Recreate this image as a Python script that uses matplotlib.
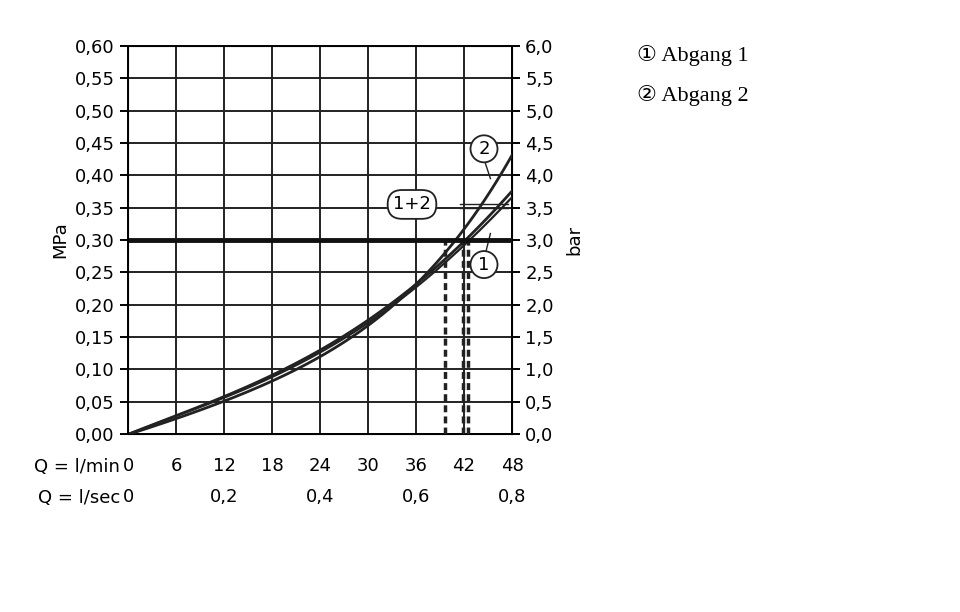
import matplotlib
matplotlib.use("Agg")
import matplotlib.pyplot as plt
from matplotlib.patches import FancyBboxPatch
import numpy as np

flow = [0, 6, 12, 18, 24, 30, 36, 42, 48]
curve_2 = [0, 0.022, 0.050, 0.085, 0.120, 0.165, 0.230, 0.320, 0.430]
curve_12 = [0, 0.027, 0.058, 0.092, 0.130, 0.175, 0.230, 0.300, 0.375]
curve_1 = [0, 0.026, 0.056, 0.090, 0.127, 0.170, 0.225, 0.295, 0.365]
cross_q = [39.6, 41.9, 42.5]
limit = 0.30
yticks = [round(0.05 * i, 2) for i in range(13)]
lmin_labels = ["0", "6", "12", "18", "24", "30", "36", "42", "48"]
lsec_pos = [0, 12, 24, 36, 48]
lsec_labels = ["0", "0,2", "0,4", "0,6", "0,8"]

plt.rcParams['font.family'] = ['DejaVu Sans']
fig = plt.figure(figsize=(9.6, 6.12), dpi=100)
ax = fig.add_axes([128/960, 1-434/612, 384/960, 388/612])
fs = 13
xs = np.linspace(0, 48, 200)
for c, lw in [(curve_2, 2.0), (curve_12, 2.0), (curve_1, 1.6)]:
    ax.plot(xs, np.interp(xs, flow, c) if False else np.polyval(np.polyfit(flow, c, 4), xs), color='#222', lw=lw, zorder=3)
ax.axhline(limit, color='#111', lw=3.5, zorder=4)
for q in cross_q:
    ax.plot([q, q], [0, limit], color='#222', lw=2.5, ls=(0, (2, 1.2)), zorder=3)
ax.set_xlim(0, 48); ax.set_ylim(0, 0.6)
ax.set_xticks(flow); ax.set_yticks(yticks)
ax.grid(True, color='#222', lw=1.4)
ax.set_xticklabels([])
ax.set_yticklabels([f"{v:.2f}".replace('.', ',') for v in yticks], fontsize=fs)
ax.tick_params(axis='y', direction='out', length=6, width=1.4)
ax.tick_params(axis='x', length=0)
for s in ax.spines.values():
    s.set_linewidth(1.4)
ax.set_ylabel("MPa", fontsize=fs)
ax2 = ax.twinx()
ax2.set_ylim(0, 6)
ax2.set_yticks([0.5 * i for i in range(13)])
ax2.set_yticklabels([f"{0.5*i:.1f}".replace('.', ',') for i in range(13)], fontsize=fs)
ax2.tick_params(axis='y', direction='out', length=6, width=1.4)
ax2.set_ylabel("bar", fontsize=fs)
ax2.yaxis.set_label_coords(1.14, 0.5)

for x, l in zip(flow, lmin_labels):
    ax.text(x, -0.05, l, ha='center', va='center', fontsize=fs)
for x, l in zip(lsec_pos, lsec_labels):
    ax.text(x, -0.097, l, ha='center', va='center', fontsize=fs)
fig.text(120/960, 1-467/612, "Q = l/min", ha='right', va='center', fontsize=fs)
fig.text(120/960, 1-498/612, "Q = l/sec", ha='right', va='center', fontsize=fs)

# annotations
ax.plot([44.5, 45.3], [0.425, 0.395], color='#222', lw=1)
ax.text(44.5, 0.441, "2", ha='center', va='center', fontsize=fs, zorder=6,
        bbox=dict(boxstyle='circle,pad=0.25', fc='white', ec='#222', lw=1.3))
ax.plot([41.5, 47.5], [0.355, 0.355], color='#222', lw=1)
ax.plot([41.5, 47.5], [0.35, 0.35], color='#222', lw=1)
ax.text(35.5, 0.355, "1+2", ha='center', va='center', fontsize=fs, zorder=6,
        bbox=dict(boxstyle='round,pad=0.3,rounding_size=0.8', fc='white', ec='#222', lw=1.3))
ax.plot([44.3, 45.3], [0.26, 0.31], color='#222', lw=1)
ax.text(44.5, 0.262, "1", ha='center', va='center', fontsize=fs, zorder=6,
        bbox=dict(boxstyle='circle,pad=0.25', fc='white', ec='#222', lw=1.3))

fig.text(637/960, 1-56/612, "① Abgang 1", fontsize=16, va='center', family=['Liberation Serif', 'DejaVu Sans'])
fig.text(637/960, 1-95/612, "② Abgang 2", fontsize=16, va='center', family=['Liberation Serif', 'DejaVu Sans'])
fig.savefig("out.png", dpi=100)
